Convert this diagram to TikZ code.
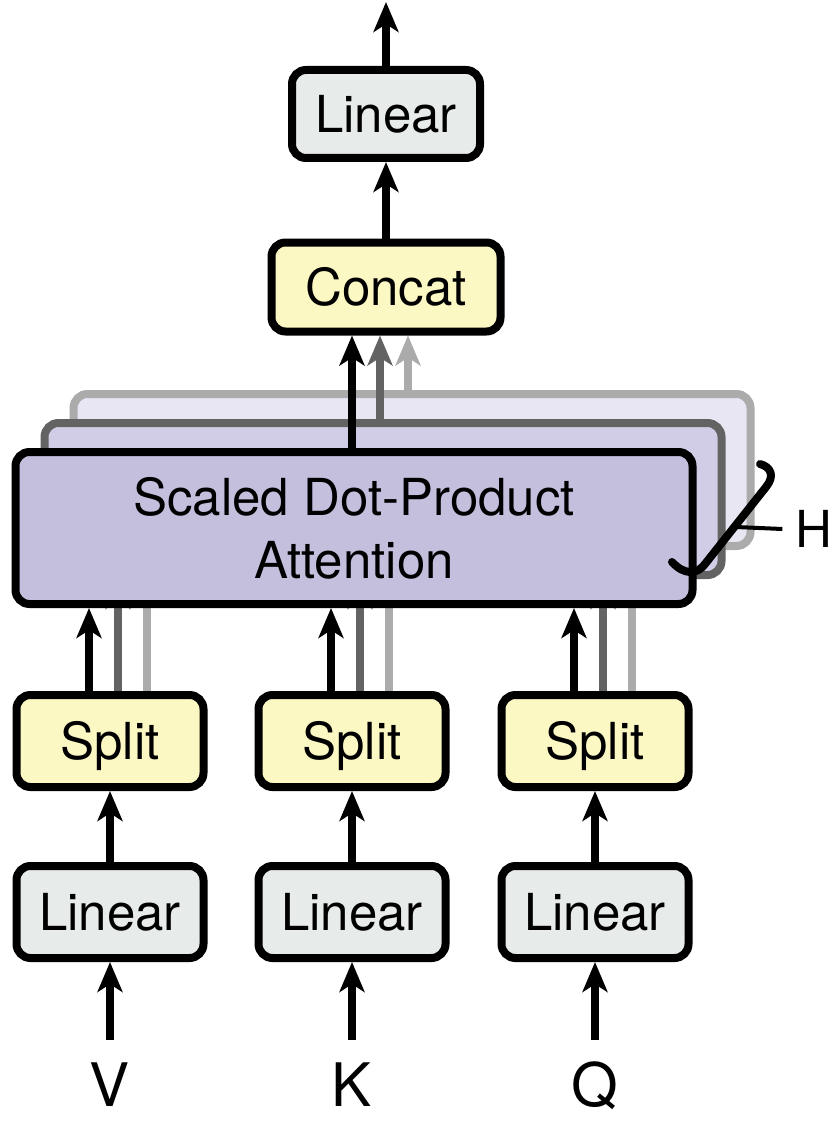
\documentclass[tikz,border=0pt]{standalone}
\usepackage{fontspec}
\setmainfont{TeX Gyre Heros}
\usetikzlibrary{calc, arrows.meta, positioning}
\definecolor{linFill}{HTML}{E7EBEA}
\definecolor{splitFill}{HTML}{FCF8C4}
\definecolor{attFront}{HTML}{C5BFDE}
\definecolor{attMid}{HTML}{D2CDE6}
\definecolor{attBack}{HTML}{E8E6F2}
\definecolor{dgray}{HTML}{636363}
\definecolor{lgray}{HTML}{ABABAB}
\tikzset{
    block/.style={
        draw, line width=8pt, rounded corners=14pt, inner sep=0pt,
        font=\fontsize{51}{63}\selectfont
    },
    caps/.style={text height=37pt, text depth=0pt},
    lin block/.style={block, caps, fill=linFill, minimum width=187pt, minimum height=92pt},
    split block/.style={block, caps, fill=splitFill, minimum width=187pt, minimum height=92pt},
    head layer/.style={block, minimum width=677pt, minimum height=152pt},
    input/.style={
        inner sep=0pt, outer ysep=22pt, text height=44pt, text depth=0pt,
        font=\fontsize{60}{60}\selectfont
    },
    flow/.style={line width=8pt, -{Stealth[length=30pt, width=25pt, inset=8pt]}}
}

\begin{document}
\begin{tikzpicture}[x=1pt, y=-1pt]
    \useasboundingbox (0,0) rectangle (835,1126);

    \node[block, caps, fill=linFill, minimum width=188pt, minimum height=88pt]
        (lin-out) at (386,114) {Linear};
    \node[block, caps, fill=splitFill, minimum width=229pt, minimum height=89pt]
        (concat) at (386,287) {Concat};
    \coordinate (out) at (386,2);
    \draw[flow] (lin-out) -- (out);
    \draw[flow] (concat) -- (lin-out);

    \foreach \name/\x in {V/110, K/352, Q/595} {
        \node[lin block] (lin-\name) at (\x,912) {Linear};
        \node[split block] (split-\name) at (\x,741) {Split};
        \node[input, anchor=base] (in-\name) at (\x,1106) {\name};
        \draw[flow] (in-\name) -- (lin-\name);
        \draw[flow] (lin-\name) -- (split-\name);
    }

    \foreach \k/\col/\bg in {2/lgray/attBack, 1/dgray/attMid} {
        \node[head layer, draw=\col, fill=\bg] (att-\k) at (354+29*\k, 528-29*\k) {};
        \draw[flow, \col] (352+28*\k,0 |- att-\k.north) -- (352+28*\k,0 |- concat.south);
        \foreach \name/\x in {V/110, K/352, Q/595}
            \draw[flow, \col] (\x-21+29*\k,0 |- split-\name.north)
                -- (\x-21+29*\k,0 |- att-\k.south);
    }

    \node[head layer, fill=attFront, align=center] (att) at (354,528)
        {Scaled Dot-Product\\Attention};
    \draw[flow] (352,0 |- att.north) -- (352,0 |- concat.south);
    \foreach \name/\x in {V/110, K/352, Q/595}
        \draw[flow] (\x-21,0 |- split-\name.north) -- (\x-21,0 |- att.south);

    \draw[line width=8pt, line cap=round, line join=round]
        (672,562) .. controls (684,575) and (697,575) .. (705,564)
        -- (766,487) .. controls (775,476) and (771,467) .. (760,464);
    \coordinate (hbar) at (736,527);
    \node[inner ysep=0pt, inner xsep=13pt, caps, font=\fontsize{51}{63}\selectfont]
        (H) at (814,529) {H};
    \draw[line width=4pt] (hbar) -- (H.west);
\end{tikzpicture}
\end{document}
